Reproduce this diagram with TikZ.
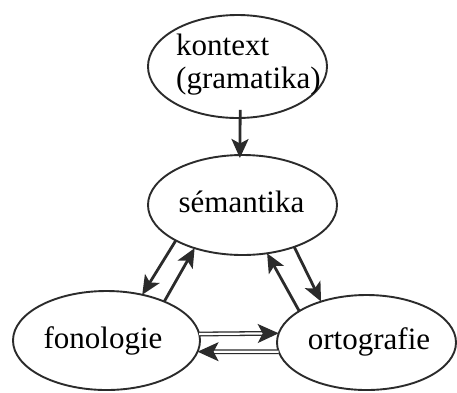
\documentclass[tikz,border=0pt]{standalone}
\usepackage{fontspec}
\setmainfont{Liberation Serif}
\usetikzlibrary{shapes.geometric,arrows.meta}
\definecolor{ink}{HTML}{2B2B2B}
\begin{document}
\begin{tikzpicture}[x=1pt,y=-1pt,
  oval/.style={ellipse,draw=ink,line width=1.9pt,inner sep=0pt,outer sep=0pt},
  word/.style={inner sep=0pt,font=\fontsize{31}{33}\selectfont,text=black},
  arr/.style={draw=ink,line width=2.8pt,
    -{Stealth[length=19pt,width=17pt,inset=4.5pt]}},
  arrd/.style={draw=ink,line width=1.3pt,double=white,double distance=2.2pt,
    -{Stealth[length=21pt,width=19pt,inset=5pt]}}]
\useasboundingbox (0,0) rectangle (457,392);
\fill[white] (0,0) rectangle (457,392);

% the four ellipses
\node[oval,minimum width=179pt,minimum height=103pt] (kon) at (237.5,66.5) {};
\node[oval,minimum width=189pt,minimum height=100pt] (sem) at (242.5,205) {};
\node[oval,minimum width=187pt,minimum height=99pt] (fon) at (106.5,340.5) {};
\node[oval,minimum width=179pt,minimum height=95pt] (ort) at (366.5,342.5) {};

% their labels (base of a two-line node is its last line)
\node[word,align=left,anchor=base west] (konT) at (176,88) {kontext\\(gramatika)};
\node[word,anchor=base] (semT) at (241.5,212) {sémantika};
\node[word,anchor=base] (fonT) at (103,348) {fonologie};
\node[word,anchor=base] (ortT) at (369,349) {ortografie};

% connectors
\draw[arr] ([yshift=8pt]kon.273) -- ([yshift=-3pt]sem.93);
\draw[arr] (sem.208) -- (fon.52);
\draw[arr] (fon.34) -- (sem.222);
\draw[arr] (ort.155) -- (sem.297);
\draw[arr] (sem.321) -- (ort.138);
\draw[arrd] (fon.4) -- (ort.174);
\draw[arrd] (ort.186) -- (fon.353);
\end{tikzpicture}
\end{document}
